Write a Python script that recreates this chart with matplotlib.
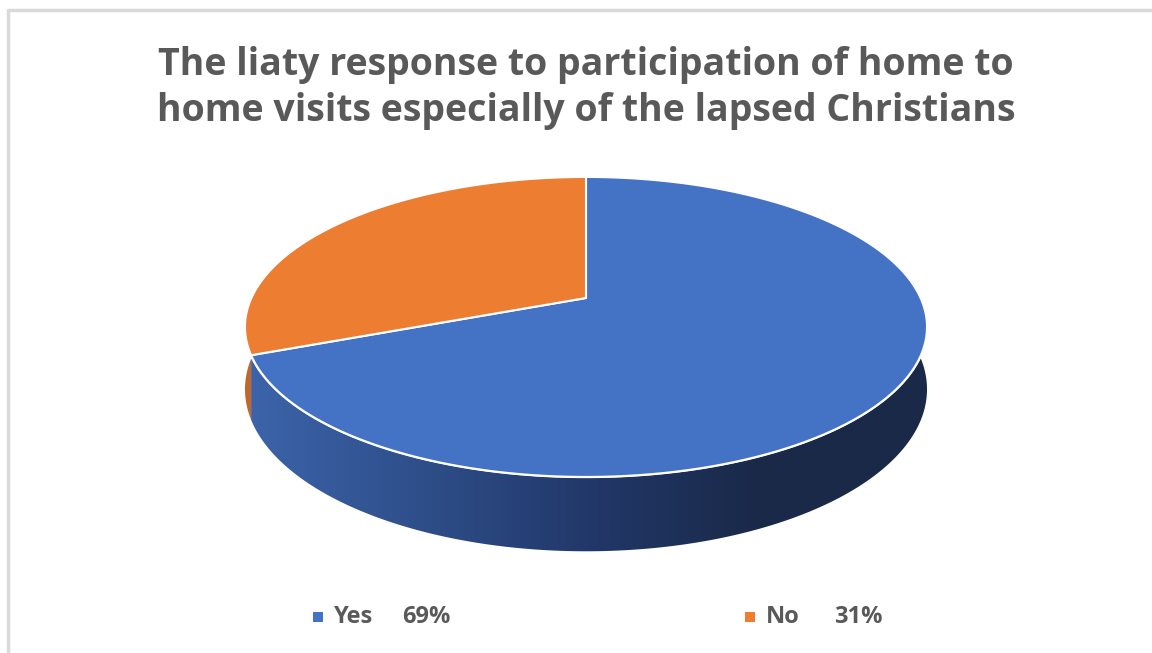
import numpy as np
import matplotlib
matplotlib.use("Agg")
import matplotlib.pyplot as plt
from matplotlib.patches import Polygon, Rectangle
from matplotlib.colors import LinearSegmentedColormap

# Data
labels = ["Yes", "No"]
values = [69, 31]
top_colors = ["#4472C4", "#ED7D31"]
title = "The liaty response to participation of home to\nhome visits especially of the lapsed Christians"

# Pie geometry in pixel space (perspective tilted disk)
cx, cy = 586, 298      # projected pie centre
sx_, sy_ = 334.6, 144.4
k = 0.193              # perspective factor
depth = 60


def proj(phi, z=0.0):
    X, Y = np.cos(phi), np.sin(phi)
    w = 1 + k * Y
    return cx + sx_ * X / w, cy - sy_ * Y / w + z / w


fig = plt.figure(figsize=(11.52, 6.53), dpi=100)
ax = fig.add_axes([0, 0, 1, 1])
ax.set_xlim(0, 1152)
ax.set_ylim(653, 0)
ax.axis("off")

# chart frame
ax.plot([8, 8, 1152], [653, 10, 10], color="#d9d9d9", lw=2.5, solid_capstyle="butt")

# slice angles, start at 12 o'clock and go clockwise
fracs = np.array(values) / np.sum(values)
starts = np.pi / 2 - np.concatenate([[0], np.cumsum(fracs)[:-1]]) * 2 * np.pi
ends = starts - fracs * 2 * np.pi

# --- side walls ---
# orange side (left sliver)
phis = np.linspace(np.pi * 0.8, ends[0] + 2 * np.pi, 100)
tx, ty = proj(phis)
bx, by = proj(phis[::-1], depth)
ax.add_patch(Polygon(np.column_stack([np.r_[tx, bx], np.r_[ty, by]]),
                     closed=True, facecolor="#C0672A", edgecolor="none", zorder=2))

# blue side with horizontal gradient
phis = np.linspace(ends[0], np.deg2rad(20), 300)
tx, ty = proj(phis)
bx, by = proj(phis[::-1], depth)
side = Polygon(np.column_stack([np.r_[tx, bx], np.r_[ty, by]]), closed=True,
               facecolor="none", edgecolor="none", zorder=2)
ax.add_patch(side)
cmap = LinearSegmentedColormap.from_list(
    "side", ["#3D64AB", "#2E4F8A", "#22386A", "#1A2948", "#1A2948"])
grad = np.linspace(0, 1, 512).reshape(1, -1)
im = ax.imshow(grad, cmap=cmap, extent=[245, 930, 560, 300], aspect="auto", zorder=2)
im.set_clip_path(side)
ax.set_xlim(0, 1152)
ax.set_ylim(653, 0)

# white rim line along blue front
fx, fy = proj(np.linspace(ends[0], np.deg2rad(10), 300))
ax.plot(fx, fy, color="white", lw=1.8, zorder=3)

# --- top faces ---
for s, e, c in zip(starts, ends, top_colors):
    phis = np.linspace(s, e, 300)
    px, py = proj(phis)
    poly = np.column_stack([np.r_[cx, px, cx], np.r_[cy, py, cy]])
    ax.add_patch(Polygon(poly, closed=True, facecolor=c, edgecolor="white",
                         lw=1.5, joinstyle="round", zorder=4))

# title
ax.text(586, 88, title, ha="center", va="center", fontsize=27, fontweight="bold",
        family="Open Sans", color="#595959", linespacing=1.3)

# legend
leg_x = [318, 750]
for i, (lab, val, c) in enumerate(zip(labels, values, top_colors)):
    ax.add_patch(Rectangle((leg_x[i] - 5, 612), 10, 10, facecolor=c, edgecolor="none"))
    ax.text(leg_x[i] + 16, 617, lab, ha="left", va="center",
            fontsize=17, family="Open Sans", fontweight="bold", color="#595959")
    ax.text(leg_x[i] + 84, 617, f"{val}%", ha="left", va="center",
            fontsize=17, family="Open Sans", fontweight="bold", color="#595959")

fig.savefig("out.png", dpi=100, facecolor="white")
